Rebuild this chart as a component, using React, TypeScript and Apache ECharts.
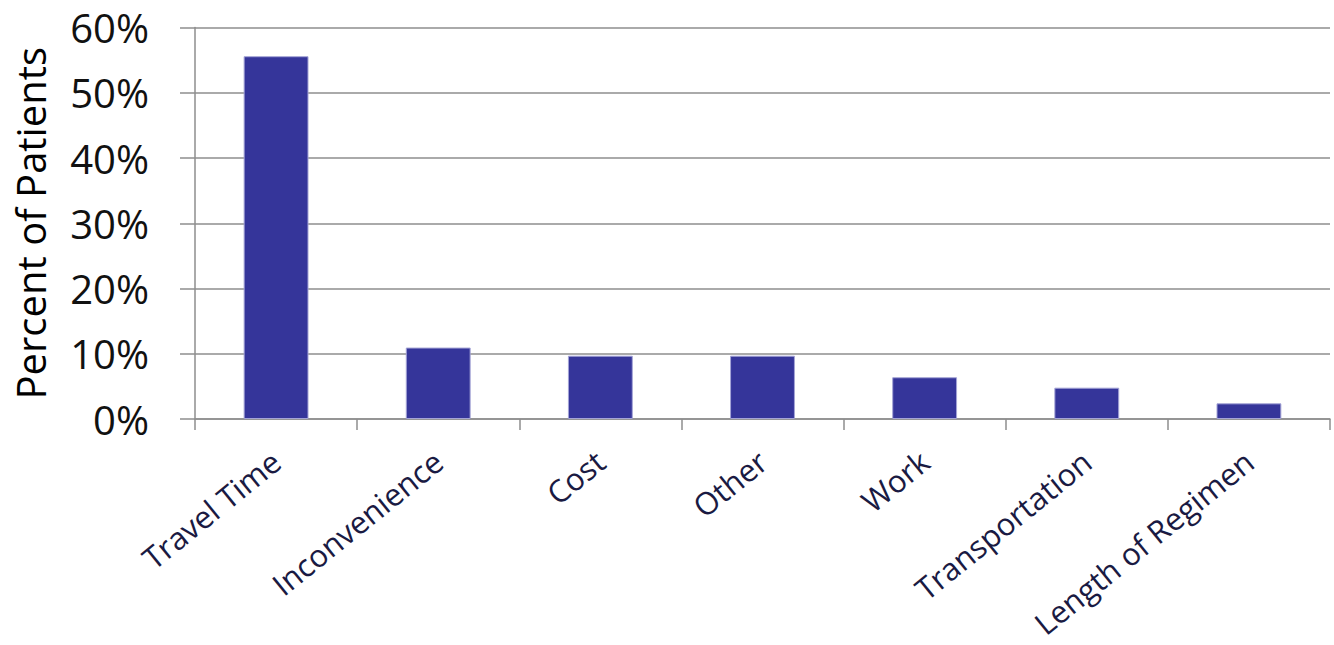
import React, { useEffect, useRef } from "react";
import * as echarts from "echarts";

const categories = [
  "Travel Time",
  "Inconvenience",
  "Cost",
  "Other",
  "Work",
  "Transportation",
  "Length of Regimen",
];
const percentValues = [55.6, 10.95, 9.7, 9.7, 6.4, 4.8, 2.4];
const yTicks = [0, 10, 20, 30, 40, 50, 60];

export default function App() {
  const ref = useRef<HTMLDivElement>(null);
  useEffect(() => {
    if (!ref.current) return;
    const chart = echarts.init(ref.current, undefined, { renderer: "svg" });
    const font = "'Open Sans', 'Noto Sans', sans-serif";
    chart.setOption({
      animation: false,
      backgroundColor: "#ffffff",
      grid: {
        left: 195,
        right: 4,
        top: 27.5,
        bottom: 226,
        containLabel: false,
        outerBoundsMode: "none",
      },
      xAxis: {
        type: "category",
        data: categories,
        axisLine: { show: true, lineStyle: { color: "#8e8e8e", width: 1.5 } },
        axisTick: { show: true, length: 11, lineStyle: { color: "#8e8e8e", width: 1.5 } },
        axisLabel: {
          rotate: 39,
          margin: 38,
          interval: 0,
          color: "#1a1a42",
          fontFamily: font,
          fontSize: 31,
        },
      },
      yAxis: {
        type: "value",
        min: yTicks[0],
        max: yTicks[yTicks.length - 1],
        interval: 10,
        name: "Percent of Patients",
        nameLocation: "middle",
        nameGap: 145,
        nameTextStyle: { color: "#000000", fontFamily: font, fontSize: 40 },
        axisLine: { show: true, lineStyle: { color: "#8e8e8e", width: 1.5 } },
        axisTick: { show: true, inside: false, length: 15, lineStyle: { color: "#8e8e8e", width: 1.5 } },
        splitLine: { show: true, lineStyle: { color: "#8e8e8e", width: 1.5 } },
        axisLabel: {
          margin: 46,
          color: "#111111",
          fontFamily: font,
          fontSize: 40,
          formatter: (v: number) => `${v}%`,
        },
      },
      series: [
        {
          type: "bar",
          data: percentValues,
          barWidth: "40%",
          itemStyle: { color: "#35359a", borderColor: "#a4a4d6", borderWidth: 1 },
        },
      ],
    });
    return () => chart.dispose();
  }, []);
  return (
    <div
      ref={ref}
      style={{ position: "fixed", left: 0, top: 0, width: 1334, height: 645 }}
    />
  );
}
